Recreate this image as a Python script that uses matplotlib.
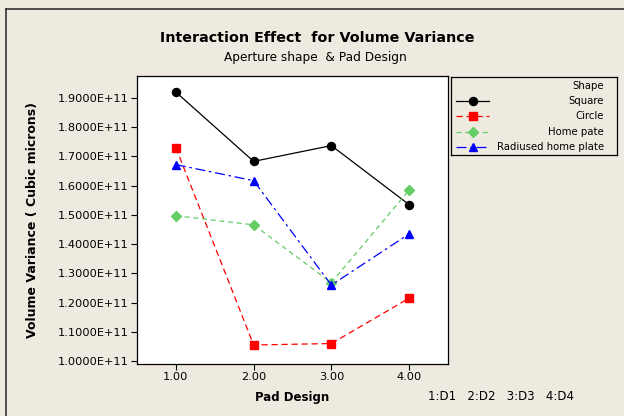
import matplotlib.pyplot as plt
from matplotlib.lines import Line2D

pad_design = [1, 2, 3, 4]
x_ticks = ["1.00", "2.00", "3.00", "4.00"]
shapes = ["Square", "Circle", "Home pate", "Radiused home plate"]
square = [1.920e11, 1.683e11, 1.737e11, 1.535e11]
circle = [1.730e11, 1.055e11, 1.060e11, 1.215e11]
home_pate = [1.497e11, 1.466e11, 1.268e11, 1.585e11]
radiused = [1.672e11, 1.617e11, 1.260e11, 1.435e11]
y_ticks = [1.0e11 + i * 0.1e11 for i in range(10)]

series = [square, circle, home_pate, radiused]
colors = ['black', '#ff0000', '#66cc66', '#0000ff']
markers = ['o', 's', 'D', '^']
styles = ['-', (0, (5, 3)), (0, (4, 3)), (0, (8, 3, 2, 3))]
bg = '#eeeae0'

W, H = 624, 416
fig = plt.figure(figsize=(6.24, 4.16), dpi=100, facecolor=bg)

def box(l, t, r, b):
    return [l / W, 1 - b / H, (r - l) / W, (b - t) / H]

ax = fig.add_axes(box(137, 76, 448, 364))
for ys, c, m, ls in zip(series, colors, markers, styles):
    ax.plot(pad_design, ys, color=c, marker=m, ls=ls, lw=0.9,
            markersize=5.8 if m != 'D' else 5.0, zorder=3)

ax.set_xlim(0.5, 4.5)
ax.set_ylim(0.99e11, 1.975e11)
ax.set_xticks(pad_design)
ax.set_xticklabels(x_ticks)
ax.set_yticks(y_ticks)
ax.set_yticklabels(["%.4fE+11" % (v / 1e11) for v in y_ticks])
ax.tick_params(labelsize=8.2, length=4, width=0.8, pad=2)
for s in ax.spines.values():
    s.set_linewidth(0.9)

fig.text(317 / W, 1 - 38 / H, "Interaction Effect  for Volume Variance",
         ha='center', va='center', fontsize=10.3, fontweight='bold')
fig.text(315 / W, 1 - 57 / H, "Aperture shape  & Pad Design",
         ha='center', va='center', fontsize=8.7)
fig.text(33 / W, 1 - 220 / H, "Volume Variance ( Cubic microns)", rotation=90,
         ha='center', va='center', fontsize=9, fontweight='bold')
fig.text(292 / W, 1 - 397 / H, "Pad Design",
         ha='center', va='center', fontsize=8.5, fontweight='bold')
fig.text(428 / W, 1 - 397 / H, "1:D1   2:D2   3:D3   4:D4",
         ha='left', va='center', fontsize=8.5)

# legend box
lg = fig.add_axes(box(451, 77, 617, 155))
lg.set_xlim(0, 166)
lg.set_ylim(78, 0)
lg.set_xticks([])
lg.set_yticks([])
lg.set_facecolor(bg)
for s in lg.spines.values():
    s.set_linewidth(0.9)
lg.text(153, 9, "Shape", ha='right', va='center', fontsize=7.3)
for i, (name, c, m, ls) in enumerate(zip(shapes, colors, markers, styles)):
    y = 24 + i * 15.3
    lg.add_line(Line2D([5, 38], [y, y], color=c, ls=ls, lw=0.9))
    lg.plot([21.5], [y], marker=m, color=c, markersize=5.8 if m != 'D' else 5.0)
    lg.text(153, y, name, ha='right', va='center', fontsize=7.3)

# outer frame (top and left edges)
fig.add_artist(Line2D([6 / W, 6 / W], [0, 1 - 9 / H], color='#333333', lw=1.2))
fig.add_artist(Line2D([6 / W, 1], [1 - 9 / H, 1 - 9 / H], color='#333333', lw=1.2))

plt.savefig("out.png", dpi=100, facecolor=bg)
